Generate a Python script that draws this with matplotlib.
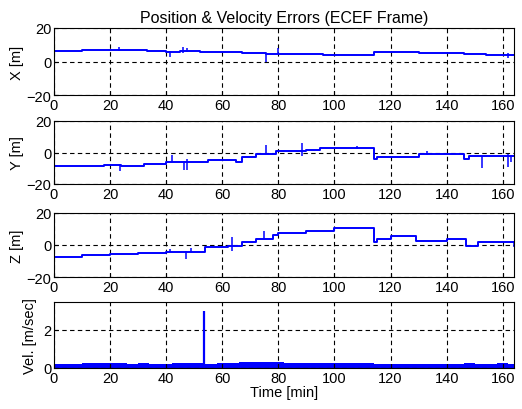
import matplotlib
matplotlib.use("Agg")
from matplotlib import pyplot as plt
import numpy as np

plt.rcParams['font.family'] = ['Liberation Sans', 'DejaVu Sans']
plt.rcParams['font.size'] = 10.5

# step levels: (start time [min], error [m])
x_t = [0, 2, 4, 10, 33, 40, 45, 49, 52, 60, 67, 75.5, 76, 96, 114, 130, 140, 146, 154, 161, 164]
x_v = [6.3, 6.5, 6.2, 6.6, 6.0, 5.8, 6.5, 6.2, 5.7, 5.9, 5.0, 4.7, 4.6, 3.6, 5.4, 4.8, 5.0, 4.6, 3.6, 4.0, 4.0]
x_sp_t = [23, 41.2, 46, 47.5, 75.5, 80, 162]
x_sp_lo = [6.5, 2.5, 5.0, 5.5, 0.0, 4.6, 2.0]
x_sp_hi = [8.5, 6.0, 8.5, 8.3, 5.0, 8.2, 5.0]

y_t = [0, 18, 24, 32, 40, 55, 65, 67, 72, 79, 90, 95, 114, 115, 130, 146, 148, 160, 164]
y_v = [-8.6, -8.0, -8.3, -7.3, -6.3, -4.9, -5.8, -3.0, -0.8, 0.8, 1.5, 2.6, -4.0, -2.7, -1.0, -4.0, -2.0, -2.0, -2.0]
y_sp_t = [23.5, 42, 46.5, 47.5, 75.5, 88.5, 108, 133, 152.5, 162, 163]
y_sp_lo = [-11.5, -6.3, -11.0, -11.0, -1.0, -2.5, 2.0, -1.5, -10.0, -9.0, -6.0]
y_sp_hi = [-7.5, -1.5, -5.5, -4.0, 5.0, 6.0, 4.0, 1.0, -2.0, -1.0, -1.5]

z_t = [0, 10, 20, 30, 40, 54, 62, 67, 72, 78, 80, 90, 100, 114, 115, 120, 129, 140, 147, 151, 164]
z_v = [-7.2, -6.5, -5.6, -4.8, -4.1, -1.0, -0.7, 2.0, 4.0, 6.0, 7.5, 9.0, 10.5, 2.0, 3.8, 5.5, 2.5, 4.0, -0.5, 1.8, 1.8]
z_sp_t = [41.5, 47, 49, 63.5, 75, 164]
z_sp_lo = [-4.2, -9.0, -4.2, -3.5, 4.0, -1.0]
z_sp_hi = [-2.5, -3.5, -2.0, 5.0, 9.0, 2.5]

# velocity error band: upper edge every 4 min, plus the one big spike
vel_t = [0, 4, 8, 12, 16, 20, 24, 28, 32, 36, 40, 44, 48, 52, 56, 60, 64, 68, 72, 76, 80,
         84, 88, 92, 96, 100, 104, 108, 112, 116, 120, 124, 128, 132, 136, 140, 144,
         148, 152, 156, 160, 164]
vel_top = [0.22, 0.23, 0.22, 0.24, 0.25, 0.24, 0.26, 0.23, 0.24, 0.23, 0.23, 0.24, 0.24,
           0.25, 0.23, 0.24, 0.25, 0.32, 0.31, 0.32, 0.30, 0.28, 0.27, 0.27, 0.25, 0.25,
           0.25, 0.26, 0.24, 0.23, 0.22, 0.22, 0.22, 0.21, 0.21, 0.22, 0.23, 0.24,
           0.23, 0.23, 0.24, 0.23]
vel_sp_t = [53.5]
vel_sp_v = [3.0]

fig = plt.figure(figsize=(5.22, 4.10), dpi=100)
L, W = 54 / 522, 460 / 522
ax1 = fig.add_axes([L, 1 - 96 / 410, W, 67 / 410])
ax2 = fig.add_axes([L, 1 - 185 / 410, W, 63 / 410])
ax3 = fig.add_axes([L, 1 - 278 / 410, W, 64 / 410])
ax4 = fig.add_axes([L, 1 - 369 / 410, W, 66 / 410])

blue = '#0000ff'
for ax, t, v, st, lo, hi, lab in [(ax1, x_t, x_v, x_sp_t, x_sp_lo, x_sp_hi, 'X [m]'),
                                   (ax2, y_t, y_v, y_sp_t, y_sp_lo, y_sp_hi, 'Y [m]'),
                                   (ax3, z_t, z_v, z_sp_t, z_sp_lo, z_sp_hi, 'Z [m]')]:
    ax.step(t, v, where='post', color=blue, lw=1.4)
    ax.vlines(st, lo, hi, color=blue, lw=1.1)
    ax.set_ylim(-20, 20)
    ax.set_yticks([-20, 0, 20])
    ax.set_ylabel(lab, labelpad=2)

ax4.fill_between(vel_t, 0, vel_top, step='mid', color=blue, lw=0)
ax4.vlines(vel_sp_t, 0, vel_sp_v, color=blue, lw=1.6)
ax4.set_ylim(0, 3.45)
ax4.set_yticks([0, 2])
ax4.set_ylabel('Vel. [m/sec]', labelpad=4)
ax4.set_xlabel('Time [min]', labelpad=0)

for ax in (ax1, ax2, ax3, ax4):
    ax.set_xlim(0, 164)
    ax.set_xticks(np.arange(0, 161, 20))
    ax.grid(True, color='black', ls=(0, (4, 3)), lw=0.8)
    ax.tick_params(direction='in', length=3, pad=2, labelsize=10.5)
    for s in ax.spines.values():
        s.set_linewidth(0.8)

ax1.set_title('Position & Velocity Errors (ECEF Frame)', pad=4, fontsize=11.5)

fig.savefig('out.png', dpi=100)
